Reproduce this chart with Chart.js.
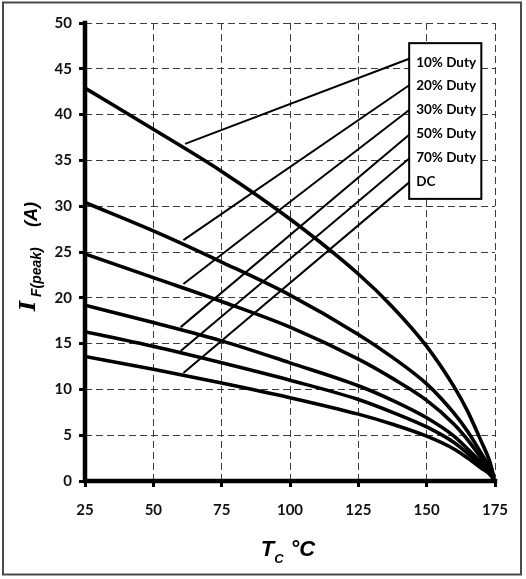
<!DOCTYPE html>
<html><head><meta charset="utf-8">
<script src="https://cdn.jsdelivr.net/npm/chart.js@4.4.0/dist/chart.umd.min.js"></script>
<style>html,body{margin:0;padding:0;background:#fff;}#wrap{width:526px;height:579px;position:relative;}</style>
</head><body>
<div id="wrap"><canvas id="c" width="526" height="579"></canvas></div>
<script>
// ---- data ----
const tempC   = [25, 50, 75, 100, 125, 137.5, 150, 160, 165, 170, 173, 175];
const duty10  = [42.9, 38.4, 33.8, 28.6, 22.6, 19.0, 14.7, 10.3, 7.6, 4.3, 2.2, 0];
const duty20  = [30.4, 27.3, 23.9, 20.3, 16.0, 13.5, 10.6, 7.4, 5.4, 3.0, 1.5, 0];
const duty30  = [24.8, 22.2, 19.6, 16.8, 13.3, 11.2, 8.8, 6.2, 4.5, 2.5, 1.3, 0];
const duty50  = [19.2, 17.3, 15.3, 12.9, 10.4, 8.8, 6.9, 4.9, 3.5, 2.0, 1.0, 0];
const duty70  = [16.3, 14.7, 12.9, 11.0, 8.9, 7.5, 5.9, 4.2, 3.0, 1.7, 0.9, 0];
const dutyDC  = [13.6, 12.2, 10.7, 9.1, 7.3, 6.2, 4.9, 3.5, 2.5, 1.4, 0.75, 0];
const seriesLabels = ['10% Duty', '20% Duty', '30% Duty', '50% Duty', '70% Duty', 'DC'];
const leaderStartX = [61.6, 61.0, 61.0, 60.0, 60.0, 61.0];
const leaderStartY = [36.8, 26.3, 21.5, 16.8, 14.2, 11.8];
const leaderEndX   = [143.6, 143.6, 143.6, 143.6, 143.6, 143.6];
const leaderEndY   = [46.1, 43.2, 40.5, 37.8, 35.2, 32.6];
const xTickValues = [25, 50, 75, 100, 125, 150, 175];
const yTickValues = [0, 5, 10, 15, 20, 25, 30, 35, 40, 45, 50];
const xTitleMain = 'T', xTitleSub = 'C', xTitleUnit = '\u00B0C';
const yTitleMain = 'I', yTitleSub = 'F(peak)', yTitleUnit = '(A)';

// ---- layout constants ----
const legendBox = {x0: 143.6, x1: 170.0, y0: 47.8, y1: 30.8};

const curves = [duty10, duty20, duty30, duty50, duty70, dutyDC];
const datasets = [];
seriesLabels.forEach((lab, i) => {
  datasets.push({
    label: lab + ' leader',
    data: [{x: leaderStartX[i], y: leaderStartY[i]}, {x: leaderEndX[i], y: leaderEndY[i]}],
    borderColor: '#000', borderWidth: 2, pointRadius: 0, tension: 0, fill: false
  });
});
curves.forEach((arr, i) => {
  datasets.push({
    label: seriesLabels[i],
    data: tempC.map((t, k) => ({x: t, y: arr[k]})),
    borderColor: '#000', borderWidth: 3.6, pointRadius: 0,
    cubicInterpolationMode: 'monotone', fill: false
  });
});

const decor = {
  id: 'decor',
  beforeDraw(chart) {
    const ctx = chart.ctx;
    ctx.save();
    ctx.fillStyle = '#fff';
    ctx.fillRect(0, 0, chart.width, chart.height);
    ctx.restore();
  },
  afterDraw(chart) {
    const ctx = chart.ctx, xs = chart.scales.x, ys = chart.scales.y, a = chart.chartArea;
    ctx.save();
    // axes
    ctx.strokeStyle = '#000'; ctx.lineWidth = 4.5; ctx.lineCap = 'square';
    ctx.beginPath();
    ctx.moveTo(a.left, a.top); ctx.lineTo(a.left, a.bottom); ctx.lineTo(a.right, a.bottom);
    ctx.stroke();
    // legend box
    const bx0 = xs.getPixelForValue(legendBox.x0), bx1 = xs.getPixelForValue(legendBox.x1);
    const by0 = ys.getPixelForValue(legendBox.y0), by1 = ys.getPixelForValue(legendBox.y1);
    ctx.fillStyle = '#fff';
    ctx.fillRect(bx0, by0, bx1 - bx0, by1 - by0);
    ctx.lineWidth = 2; ctx.lineCap = 'butt';
    ctx.strokeRect(bx0, by0, bx1 - bx0, by1 - by0);
    ctx.fillStyle = '#000';
    ctx.font = 'bold 13.5px Lato';
    ctx.textBaseline = 'middle'; ctx.textAlign = 'left';
    seriesLabels.forEach((lab, i) => {
      ctx.fillText(lab, bx0 + 7, by0 + 19 + i * 23.9);
    });
    // x title
    ctx.textBaseline = 'alphabetic';
    ctx.font = 'italic bold 22px "Liberation Sans"';
    const cx = (a.left + a.right) / 2;
    const wT = ctx.measureText(xTitleMain).width;
    ctx.font = 'italic bold 13px "Liberation Sans"';
    const wS = ctx.measureText(xTitleSub).width;
    ctx.font = 'italic bold 22px "Liberation Sans"';
    const wU = ctx.measureText(xTitleUnit).width;
    const gap = 7;
    let sx = cx - (wT + wS + gap + wU) / 2 - 2;
    ctx.fillText(xTitleMain, sx, 556);
    ctx.font = 'italic bold 13px "Liberation Sans"';
    ctx.fillText(xTitleSub, sx + wT, 563);
    ctx.font = 'italic bold 22px "Liberation Sans"';
    ctx.fillText(xTitleUnit, sx + wT + wS + gap, 556);
    // y title (rotated)
    ctx.save();
    ctx.rotate(-Math.PI / 2);
    ctx.font = 'italic bold 22px "DejaVu Serif"';
    ctx.fillText(yTitleMain, -311, 35);
    ctx.font = 'italic bold 14px "Liberation Sans"';
    ctx.fillText(yTitleSub, -297, 41);
    ctx.font = 'italic bold 18px "Liberation Sans"';
    ctx.fillText(yTitleUnit, -227, 37);
    ctx.restore();
    // outer frame
    ctx.strokeStyle = '#4a4a4a'; ctx.lineWidth = 2;
    ctx.strokeRect(3, 2.5, 518, 572);
    ctx.restore();
  }
};

new Chart(document.getElementById('c'), {
  type: 'line',
  data: {datasets},
  options: {
    responsive: false, animation: false, devicePixelRatio: 1,
    layout: {padding: {left: 0, right: 31, top: 23, bottom: 0}},
    plugins: {legend: {display: false}, tooltip: {enabled: false}},
    scales: {
      x: {
        type: 'linear', min: 25, max: 175,
        afterBuildTicks: s => { s.ticks = xTickValues.map(v => ({value: v})); },
        afterFit: s => { s.height = 98; },
        grid: {color: '#3c3c3c', lineWidth: 1, tickColor: '#000', tickWidth: 3, tickLength: 6, tickBorderDash: []},
        border: {display: false, dash: [7, 4]},
        ticks: {color: '#111', font: {family: 'Lato', weight: 'bold', size: 15}, padding: 14, maxRotation: 0}
      },
      y: {
        type: 'linear', min: 0, max: 50,
        afterBuildTicks: s => { s.ticks = yTickValues.map(v => ({value: v})); },
        afterFit: s => { s.width = 85; },
        grid: {color: '#3c3c3c', lineWidth: 1, tickColor: '#000', tickWidth: 3, tickLength: 6, tickBorderDash: []},
        border: {display: false, dash: [7, 4]},
        ticks: {color: '#111', font: {family: 'Lato', weight: 'bold', size: 15}, padding: 7}
      }
    }
  },
  plugins: [decor]
});
</script>
</body></html>
